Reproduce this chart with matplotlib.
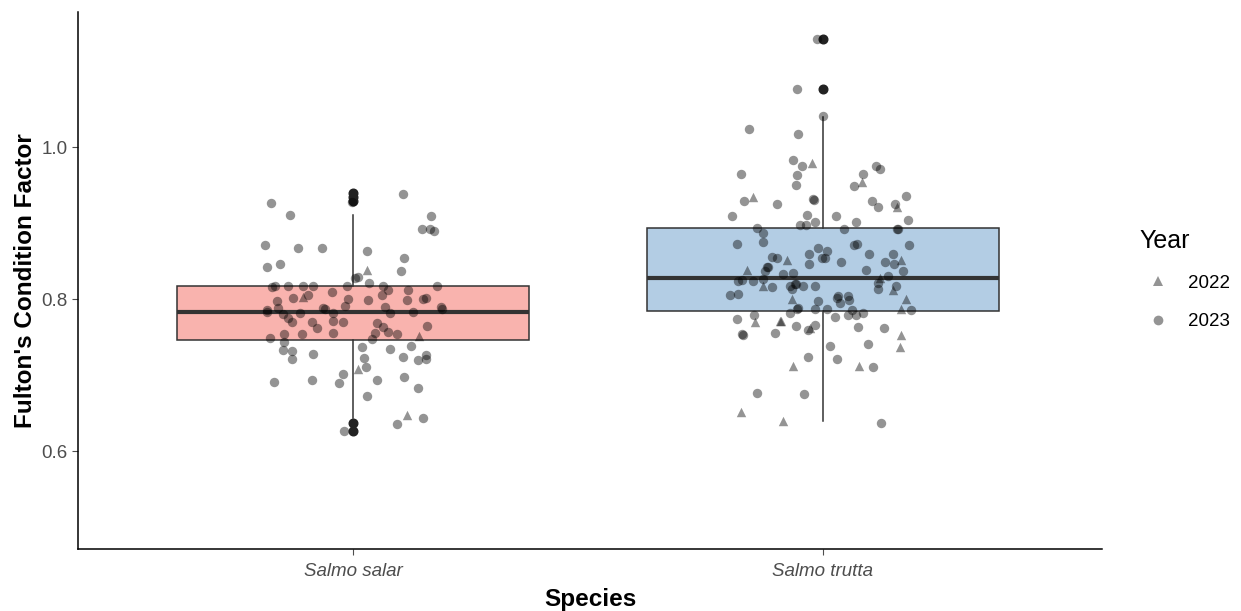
import matplotlib.pyplot as plt
from matplotlib.lines import Line2D

plt.rcParams['font.family'] = ['Liberation Sans', 'DejaVu Sans']

species = ["Salmo salar", "Salmo trutta"]
box_colors = ["#F9B3AE", "#B3CDE4"]

# box stats
whis_lo = [0.643, 0.639]
q1 = [0.746, 0.784]
median = [0.783, 0.828]
q3 = [0.817, 0.894]
whis_hi = [0.911, 1.040]
outliers = [[0.940, 0.935, 0.930, 0.637, 0.626], [1.143, 1.077]]

# jittered points: horizontal jitter (category units), condition factor, year
salar_jit = [-0.174, -0.134, -0.187, -0.117, -0.066, -0.183, -0.155, 0.106, -0.002, 0.166,
             0.147, 0.164, 0.172, 0.030, 0.109, 0.030, 0.102, 0.011, 0.034, 0.064,
             0.179, 0.004, -0.172, -0.166, -0.138, -0.106, -0.085, -0.013, -0.045, -0.011,
             -0.162, -0.128, -0.106, -0.096, -0.183, -0.160, -0.064, -0.017, 0.032, 0.062,
             0.074, 0.117, 0.115, 0.149, 0.155, 0.068, 0.187, -0.183, -0.149, -0.138,
             -0.130, -0.113, -0.087, -0.077, -0.060, -0.043, -0.043, -0.021, -0.043, -0.109,
             -0.147, 0.079, 0.128, 0.189, 0.051, 0.064, 0.074, 0.094, 0.047, 0.040,
             0.157, 0.140, -0.177, -0.147, -0.149, -0.130, -0.130, -0.085, -0.168, -0.087,
             -0.021, -0.030, -0.019, 0.011, 0.019, 0.023, 0.028, 0.079, 0.123, 0.106,
             0.138, 0.155, 0.155, 0.051, 0.109, 0.138, 0.030, 0.115, 0.149, 0.094]
salar_val = [0.927, 0.911, 0.872, 0.867, 0.867, 0.843, 0.847, 0.938, 0.928, 0.909,
             0.893, 0.892, 0.890, 0.863, 0.854, 0.839, 0.837, 0.829, 0.821, 0.818,
             0.818, 0.828, 0.816, 0.817, 0.817, 0.817, 0.817, 0.818, 0.810, 0.800,
             0.797, 0.801, 0.803, 0.805, 0.786, 0.788, 0.788, 0.791, 0.799, 0.805,
             0.812, 0.812, 0.799, 0.800, 0.801, 0.790, 0.790, 0.783, 0.780, 0.775,
             0.770, 0.782, 0.770, 0.762, 0.787, 0.782, 0.771, 0.770, 0.755, 0.754,
             0.754, 0.782, 0.783, 0.787, 0.769, 0.763, 0.757, 0.754, 0.755, 0.748,
             0.765, 0.751, 0.749, 0.744, 0.733, 0.732, 0.721, 0.728, 0.691, 0.694,
             0.702, 0.690, 0.626, 0.708, 0.737, 0.723, 0.711, 0.734, 0.738, 0.724,
             0.720, 0.727, 0.721, 0.694, 0.698, 0.683, 0.672, 0.648, 0.644, 0.636]
salar_year = [2023] * 100
for i in [15, 32, 71, 83, 97]:
    salar_year[i] = 2022

trutta_jit = [-0.013, -0.055, 0.000, -0.157, -0.053, -0.064, -0.023, -0.174, -0.045, -0.055,
              -0.057, -0.149, -0.168, -0.098, -0.021, -0.019, -0.194, -0.034, -0.017, -0.049,
              -0.036, -0.140, -0.128, -0.128, -0.183, -0.109, -0.098, -0.077, -0.030, -0.011,
              -0.002, -0.030, -0.119, -0.117, -0.123, -0.162, -0.064, -0.085, -0.181, -0.172,
              -0.149, -0.128, -0.128, -0.109, -0.070, -0.060, -0.057, -0.043, -0.017, -0.066,
              -0.198, -0.181, 0.113, 0.121, 0.085, 0.066, 0.083, 0.104, 0.117, 0.153,
              0.157, 0.177, 0.028, 0.070, 0.181, 0.045, 0.157, 0.160, 0.072, 0.066,
              0.009, 0.004, 0.183, 0.098, 0.149, 0.038, 0.132, 0.151, 0.166, 0.091,
              0.170, 0.121, 0.138, 0.117, 0.155, 0.117, 0.149, 0.032, 0.053, -0.066,
              -0.055, -0.053, -0.017, -0.011, -0.070, -0.183, -0.147, -0.145, -0.091, -0.089,
              -0.057, -0.102, -0.170, -0.172, -0.028, -0.032, -0.017, -0.032, -0.064, -0.140,
              -0.040, -0.174, -0.085, 0.030, 0.036, 0.055, 0.009, 0.062, 0.026, 0.053,
              0.070, 0.085, 0.177, 0.166, 0.187, 0.074, 0.130, 0.166, 0.164, 0.015,
              0.096, 0.030, 0.077, 0.106, 0.123]
trutta_val = [1.143, 1.077, 1.041, 1.024, 1.018, 0.984, 0.980, 0.965, 0.976, 0.963,
              0.951, 0.934, 0.930, 0.926, 0.932, 0.931, 0.909, 0.911, 0.902, 0.898,
              0.898, 0.894, 0.887, 0.876, 0.873, 0.855, 0.854, 0.852, 0.859, 0.868,
              0.854, 0.847, 0.842, 0.843, 0.837, 0.838, 0.834, 0.833, 0.824, 0.825,
              0.824, 0.826, 0.818, 0.816, 0.817, 0.820, 0.820, 0.818, 0.818, 0.813,
              0.805, 0.807, 0.976, 0.972, 0.965, 0.949, 0.955, 0.930, 0.921, 0.925,
              0.921, 0.936, 0.909, 0.902, 0.904, 0.893, 0.893, 0.892, 0.873, 0.872,
              0.863, 0.854, 0.871, 0.860, 0.859, 0.849, 0.849, 0.847, 0.851, 0.838,
              0.837, 0.828, 0.830, 0.821, 0.818, 0.813, 0.812, 0.804, 0.804, 0.800,
              0.787, 0.788, 0.787, 0.797, 0.782, 0.774, 0.779, 0.770, 0.771, 0.771,
              0.765, 0.755, 0.753, 0.754, 0.762, 0.759, 0.766, 0.724, 0.712, 0.677,
              0.675, 0.651, 0.639, 0.801, 0.795, 0.799, 0.787, 0.786, 0.776, 0.779,
              0.779, 0.782, 0.800, 0.787, 0.786, 0.763, 0.762, 0.753, 0.737, 0.738,
              0.741, 0.721, 0.712, 0.711, 0.637]
trutta_year = [2023] * 135
for i in [6, 11, 27, 35, 42, 56, 60, 78, 81, 86, 89, 97, 98, 99, 104, 108, 111, 112,
          122, 123, 127, 128, 132]:
    trutta_year[i] = 2022

fig = plt.figure(figsize=(12.41, 6.11), dpi=100)
ax = fig.add_axes([0.0629, 0.1015, 0.8251, 0.8785])

stats = []
for i in range(2):
    stats.append(dict(whislo=whis_lo[i], q1=q1[i], med=median[i], q3=q3[i],
                      whishi=whis_hi[i], fliers=outliers[i]))
bp = ax.bxp(stats, positions=[1, 2], widths=0.75, patch_artist=True, showcaps=False,
            boxprops=dict(edgecolor="#333333", linewidth=1.1),
            whiskerprops=dict(color="#333333", linewidth=1.1),
            medianprops=dict(color="#333333", linewidth=3),
            flierprops=dict(marker="o", markerfacecolor="#222222", markeredgecolor="#222222",
                            markersize=6.2))
for patch, c in zip(bp["boxes"], box_colors):
    patch.set_facecolor(c)

markers = {2022: "^", 2023: "o"}
for pos, jit, val, yr in [(1, salar_jit, salar_val, salar_year),
                          (2, trutta_jit, trutta_val, trutta_year)]:
    for year in [2022, 2023]:
        xs = [pos + j for j, y in zip(jit, yr) if y == year]
        ys = [v for v, y in zip(val, yr) if y == year]
        ax.scatter(xs, ys, marker=markers[year], s=46, color="black", alpha=0.42,
                   linewidths=0, zorder=3)

ax.set_xlim(0.415, 2.594)
ax.set_ylim(0.471, 1.178)
ax.set_xticks([1, 2])
ax.set_xticklabels(species, fontstyle="italic")
ax.set_yticks([0.6, 0.8, 1.0])
ax.set_yticklabels(["0.6", "0.8", "1.0"])
ax.tick_params(colors="#4D4D4D", labelsize=13.5, length=4, width=0.8)
ax.tick_params(axis="x", pad=6)
for s in ["top", "right"]:
    ax.spines[s].set_visible(False)
for s in ["left", "bottom"]:
    ax.spines[s].set_linewidth(1.1)

ax.set_xlabel("Species", fontsize=17.5, fontweight="bold", labelpad=6)
ax.set_ylabel("Fulton's Condition Factor", fontsize=17.5, fontweight="bold", labelpad=3)

handles = [Line2D([], [], marker="^", linestyle="", color="black", alpha=0.42, markersize=7,
                  markeredgewidth=0),
           Line2D([], [], marker="o", linestyle="", color="black", alpha=0.42, markersize=7,
                  markeredgewidth=0)]
leg = ax.legend(handles, ["2022", "2023"], title="Year", loc="center left",
                bbox_to_anchor=(1.02, 0.502), frameon=False, fontsize=13.5,
                title_fontsize=18, handletextpad=0.6, labelspacing=1.15)
leg._legend_box.align = "left"

fig.savefig("out.png", dpi=100)
